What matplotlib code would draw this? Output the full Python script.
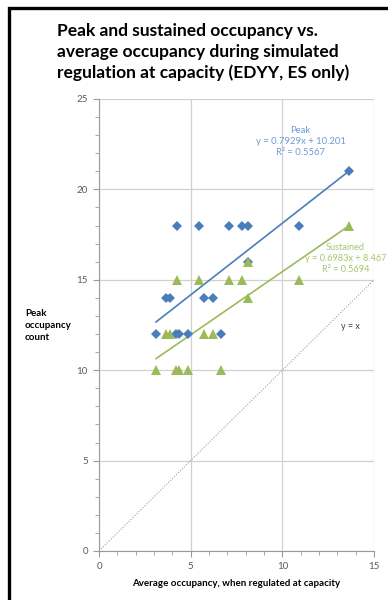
import numpy as np
import matplotlib.pyplot as plt
from matplotlib.ticker import MultipleLocator
from matplotlib.patches import Rectangle

OUT_PATH = "out.png"

# average occupancy under regulation at capacity, one entry per run
avg_occupancy = [3.11, 4.22, 4.36, 4.84, 6.65,
                 3.63, 3.87, 5.70, 6.20,
                 4.27, 5.47, 7.08, 7.78, 10.90,
                 8.15, 8.15, 13.65]
peak_occupancy = [12, 12, 12, 12, 12,
                  14, 14, 14, 14,
                  18, 18, 18, 18, 18,
                  18, 16, 21]
sustained_occupancy = [10, 10, 10, 10, 10,
                       12, 12, 12, 12,
                       15, 15, 15, 15, 15,
                       16, 14, 18]

# linear trendlines (slope, intercept, r2)
peak_fit = (0.7929, 10.201, 0.5567)
sustained_fit = (0.6983, 8.467, 0.5694)

BLUE = "#4a7ebb"
GREEN = "#9bbb59"
FONT = ["Lato", "DejaVu Sans"]


def main():
    plt.rcParams["font.family"] = FONT

    fig = plt.figure(figsize=(3.88, 6.0), dpi=100)
    ax = fig.add_axes([0.2552, 0.0817, 0.7087, 0.7533])

    # chart border (only the left and top edges are in view)
    fig.patches.append(Rectangle((0.022, -0.1), 1.2, 1.087, transform=fig.transFigure,
                                 fill=False, edgecolor="black", linewidth=2.4))

    x = np.array(avg_occupancy)
    xs = np.array([x.min(), x.max()])

    ax.plot([0, 15], [0, 15], color="#a0a0a0", linestyle=(0, (1, 1.5)), linewidth=0.8, zorder=2)

    ax.plot(xs, peak_fit[0] * xs + peak_fit[1], color=BLUE, linewidth=1.2, zorder=3)
    ax.plot(xs, sustained_fit[0] * xs + sustained_fit[1], color=GREEN, linewidth=1.2, zorder=3)

    ax.plot(x, peak_occupancy, linestyle="none", marker="D", markersize=5.2,
            color=BLUE, markeredgewidth=0, zorder=4)
    ax.plot(x, sustained_occupancy, linestyle="none", marker="^", markersize=7,
            color=GREEN, markeredgewidth=0, zorder=5)

    ax.set_xlim(0, 15)
    ax.set_ylim(0, 25)
    ax.xaxis.set_major_locator(MultipleLocator(5))
    ax.yaxis.set_major_locator(MultipleLocator(5))
    ax.xaxis.set_minor_locator(MultipleLocator(1))
    ax.yaxis.set_minor_locator(MultipleLocator(1))
    ax.grid(True, which="major", color="#d0d0d0", linewidth=0.9)
    ax.set_axisbelow(True)

    for side in ("top", "right"):
        ax.spines[side].set_visible(False)
    for side in ("left", "bottom"):
        ax.spines[side].set_color("#9a9a9a")
        ax.spines[side].set_linewidth(0.8)
    ax.tick_params(which="major", length=4, color="#9a9a9a", labelsize=7,
                   labelcolor="#595959", pad=4)
    ax.tick_params(which="minor", length=3, color="#9a9a9a")

    ax.set_xlabel("Average occupancy, when regulated at capacity",
                  fontsize=7, fontweight="bold", labelpad=6)
    fig.text(0.064, 0.458, "Peak\noccupancy\ncount", fontsize=7, fontweight="bold",
             ha="left", va="center", linespacing=1.45)

    fig.text(0.147, 0.962,
             "Peak and sustained occupancy vs.\naverage occupancy during simulated\n"
             "regulation at capacity (EDYY, ES only)",
             fontsize=12.5, fontweight="bold", ha="left", va="top", linespacing=1.38)

    ax.text(11.0, 21.8, "Peak\ny = %.4fx + %.3f\nR² = %.4f" % peak_fit,
            color="#6f9bd3", fontsize=6.8, ha="center", va="bottom", linespacing=1.3)
    ax.text(13.45, 15.3, "Sustained\ny = %.4fx + %.3f\nR² = %.4f" % sustained_fit,
            color="#a8c56e", fontsize=6.6, ha="center", va="bottom", linespacing=1.3)
    ax.text(13.7, 12.4, "y = x", color="#404040", fontsize=6.5, ha="center", va="center")

    fig.savefig(OUT_PATH, dpi=100)
    plt.close(fig)


if __name__ == "__main__":
    main()
